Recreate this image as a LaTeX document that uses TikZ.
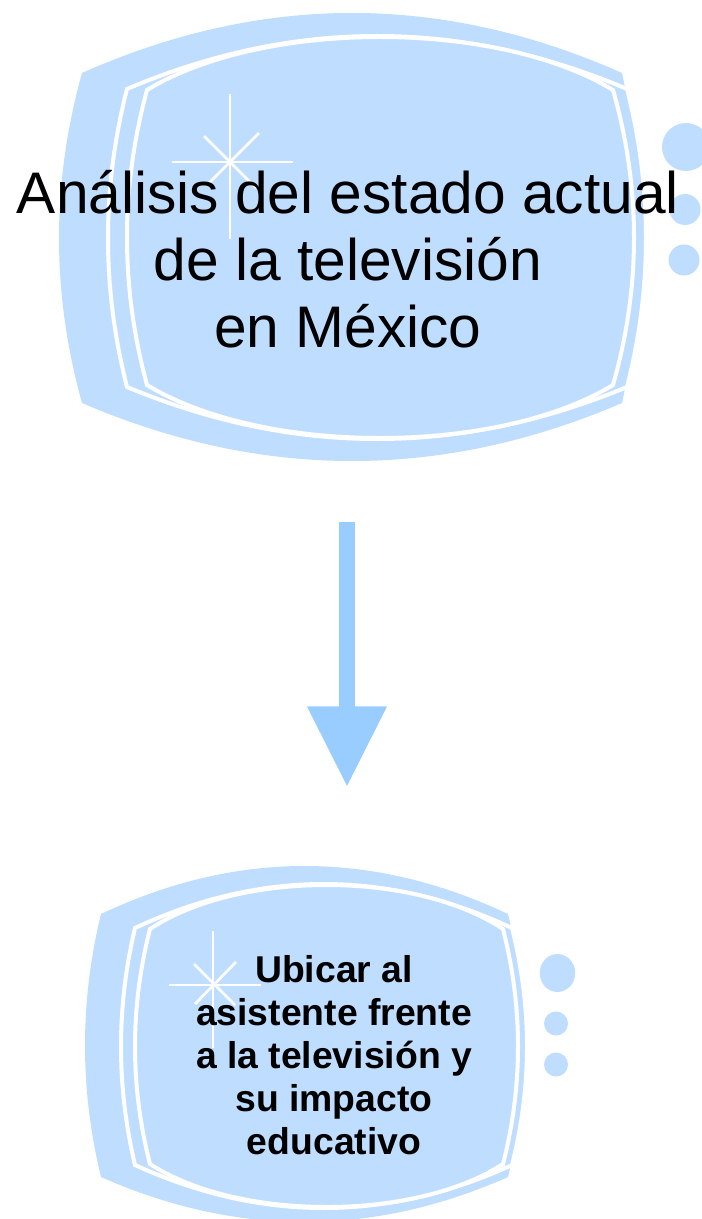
\documentclass[tikz,border=0pt]{standalone}
\usepackage{fontspec}
\setmainfont{Liberation Sans}
\usetikzlibrary{arrows.meta}

\definecolor{tvblue}{HTML}{BFDDFF}
\definecolor{arrowblue}{HTML}{99CCFF}

\def\tvpull{3}   %Where the top and bottom controls sit, as a part of the width.

%One screen outline: style, left, right, top, bottom, left bulge, right bulge, top apex, bottom apex
\newcommand{\tvlayer}[9]{
\path[#1] (#2,#4)
  .. controls ({#2+(#3-#2)/\tvpull},{#4-(#4-#8)*4/3}) and ({#3-(#3-#2)/\tvpull},{#4-(#4-#8)*4/3}) .. (#3,#4)
  .. controls ({#3+(#7-#3)*4/3},{#4+(#5-#4)/3}) and ({#3+(#7-#3)*4/3},{#5-(#5-#4)/3}) .. (#3,#5)
  .. controls ({#3-(#3-#2)/\tvpull},{#5+(#9-#5)*4/3}) and ({#2+(#3-#2)/\tvpull},{#5+(#9-#5)*4/3}) .. (#2,#5)
  .. controls ({#2-(#2-#6)*4/3},{#5-(#5-#4)/3}) and ({#2-(#2-#6)*4/3},{#4+(#5-#4)/3}) .. (#2,#4) -- cycle;
}

\begin{document}
\begin{tikzpicture}[x=0.75pt,y=-0.75pt,
  tvback/.style={fill=tvblue},
  tvframe/.style={fill=tvblue,draw=white,line width=3pt},
  spark/.style={draw=white,line width=2pt},
  dot/.style={fill=tvblue},
  blockarrow/.style={draw=arrowblue,line width=12pt,-{Triangle[length=60.5pt,width=56.5pt]}},
  bigtext/.style={align=center,font=\fontsize{44}{50.3}\selectfont},
  smalltext/.style={align=center,font=\fontsize{28}{32.3}\selectfont\bfseries}]

\useasboundingbox (0,0) rectangle (701,1219);

% Upper screen
\tvlayer{tvback}{82}{622}{73}{403}{59}{640}{13}{461}
\tvlayer{tvframe}{127}{627}{89}{387}{108}{646}{36}{439}
\def\tvpull{4}
\tvlayer{tvframe}{147}{613}{90}{385}{127}{634}{37}{438}
\def\tvpull{3}

% Upper spark
\draw[spark] (230,94) -- (230,239);
\draw[spark] (172,162) -- (293,162);
\draw[spark] (204,136) -- (256,188);
\draw[spark] (259,133) -- (208,184);

% Upper dots
\fill[dot] (686,147) circle (24);
\fill[dot] (685,209.5) circle (15.5);
\fill[dot] (684,260) circle (15.5);

% Lower screen
\tvlayer{tvback}{101}{508}{914}{1177}{85}{524}{866}{1222}
\tvlayer{tvframe}{135}{512}{928}{1165}{121}{527}{884}{1208}
\def\tvpull{4}
\tvlayer{tvframe}{150}{503}{929}{1164}{135}{518}{885}{1207}
\def\tvpull{3}

% Lower spark
\draw[spark] (213,931) -- (213,1048);
\draw[spark] (169,985) -- (261,985);
\draw[spark] (194,964) -- (235,1005);
\draw[spark] (236,962) -- (195,1004);

% Lower dots
\fill[dot] (557.5,973) ellipse (17.7 and 19);
\fill[dot] (556,1023.5) circle (12);
\fill[dot] (556,1064.5) circle (12);

% Texts
\node[bigtext] (title) at (348,259.5) {Análisis del estado actual\\de la televisión\\en México};
\node[smalltext] (goal) at (334,1055.5) {Ubicar al\\asistente frente\\a la televisión y\\su impacto\\educativo};

% Arrow
\coordinate (arrowtop) at (347,522);
\coordinate (arrowtip) at (347,787);
\draw[blockarrow] (arrowtop) -- (arrowtip);

\end{tikzpicture}
\end{document}
